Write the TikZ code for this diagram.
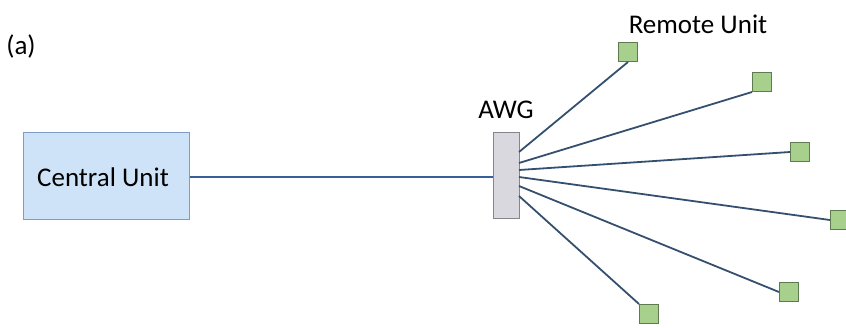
\documentclass[tikz,border=0pt]{standalone}
\usepackage{fontspec}
\setmainfont{Carlito}
\definecolor{cuFill}{HTML}{CFE3F8}
\definecolor{cuDraw}{HTML}{7E9CC4}
\definecolor{awgFill}{HTML}{D8D8DE}
\definecolor{awgDraw}{HTML}{85858C}
\definecolor{ruFill}{HTML}{A8D08D}
\definecolor{ruDraw}{HTML}{5F7A50}
\definecolor{fiber}{HTML}{34506E}
\definecolor{trunk}{HTML}{3A5E98}
\begin{document}
\begin{tikzpicture}[x=1pt,y=-1pt,
  lbl/.style={inner sep=0pt,font=\fontsize{27}{31}\selectfont},
  cubox/.style={draw=cuDraw,fill=cuFill,line width=1pt,minimum width=166pt,minimum height=87pt,inner sep=0pt},
  awgbox/.style={draw=awgDraw,fill=awgFill,line width=1pt,minimum width=26pt,minimum height=86pt,inner sep=0pt},
  rubox/.style={draw=ruDraw,fill=ruFill,line width=1pt,minimum size=19pt,inner sep=0pt},
  fib/.style={draw=fiber,line width=1.8pt},
]
\useasboundingbox (0,0) rectangle (846,327);
\node[lbl] (tag) at (21,46) {(a)};
\node[cubox] (cu) at (106,175.5) {};
\node[lbl] (cutext) at (103,177) {Central Unit};
\node[awgbox] (awg) at (506,175) {};
\node[lbl] (awgtext) at (506,110) {AWG};
\node[lbl] (rutext) at (698,24) {Remote Unit};
\node[rubox] (r1) at (628,52) {};
\node[rubox] (r2) at (762,82) {};
\node[rubox] (r3) at (800,152) {};
\node[rubox] (r4) at (840,220) {};
\node[rubox] (r5) at (789,292) {};
\node[rubox] (r6) at (649,314) {};
% trunk fibre
\draw[draw=trunk,line width=2.2pt] (cu.east |- 0,177) -- (awg.west |- 0,177);
% distribution fibres
\coordinate (o1) at (519,152);
\coordinate (o2) at (519,163);
\coordinate (o3) at (519,170);
\coordinate (o4) at (519,177);
\coordinate (o5) at (519,186);
\coordinate (o6) at (519,196);
\draw[fib] (o1) -- (r1.south);
\draw[fib] (o2) -- (r2.south west);
\draw[fib] (o3) -- (r3.west);
\draw[fib] (o4) -- (r4.west);
\draw[fib] (o5) -- (r5.west);
\draw[fib] (o6) -- (r6.north west);
\end{tikzpicture}
\end{document}
